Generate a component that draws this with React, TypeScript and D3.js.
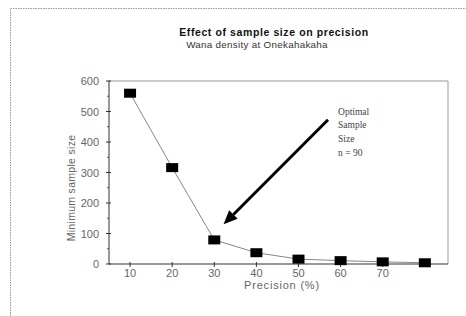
import React from "react";
import * as d3 from "d3";

const precision = [10, 20, 30, 40, 50, 60, 70, 80];
const sampleSize = [560, 316, 79, 37, 16, 11, 7, 4];
const xTicks = [10, 20, 30, 40, 50, 60, 70, 80];
const xTickLabels = ["10", "20", "30", "40", "50", "60", "70", ""];
const yTicks = [0, 100, 200, 300, 400, 500, 600];
const yMinorTicks = [50, 150, 250, 350, 450, 550];
const annotationLines = ["Optimal", "Sample", "Size", "n = 90"];
const arrowFrom = { x: 57, y: 473 };
const arrowTo = { x: 32.2, y: 130 };
const annotationAt = { x: 59.4, y: 490 };

const W = 466;
const H = 316;
const L = 109, R = 448, T = 81, B = 264;

export default function App() {
  const x = d3.scaleLinear().domain([5, 85.5]).range([L, R]);
  const y = d3.scaleLinear().domain([0, 600]).range([B, T]);
  const line = d3
    .line<number>()
    .x((_, i) => x(precision[i]))
    .y((d) => y(d));

  const ax1 = x(arrowFrom.x), ay1 = y(arrowFrom.y);
  const ax2 = x(arrowTo.x), ay2 = y(arrowTo.y);
  const ang = Math.atan2(ay2 - ay1, ax2 - ax1);
  const headLen = 14, headW = 6;
  const bx = ax2 - headLen * Math.cos(ang), by = ay2 - headLen * Math.sin(ang);
  const px = -Math.sin(ang), py = Math.cos(ang);
  const head = `M${ax2},${ay2}L${bx + headW * px},${by + headW * py}L${bx - headW * px},${by - headW * py}Z`;

  const font = "Arial, 'Liberation Sans', sans-serif";
  return (
    <svg
      width={W}
      height={H}
      style={{ position: "absolute", left: 0, top: 0, background: "#fff" }}
      fontFamily={font}
    >
      <rect x={10.5} y={8.5} width={480} height={330} fill="none" stroke="#999" strokeDasharray="1.5,1" />
      <text x={274} y={36} textAnchor="middle" fontSize={10.5} letterSpacing={0.6} fontWeight="bold" fill="#111">
        Effect of sample size on precision
      </text>
      <text x={257} y={48} textAnchor="middle" fontSize={9.8} letterSpacing={0.3} fill="#333">
        Wana density at Onekahakaha
      </text>
      {/* plot frame */}
      <path d={`M${L},${T}H${R}V${B}`} fill="none" stroke="#999" strokeWidth={1} />
      {/* axes */}
      <line x1={L} y1={T} x2={L} y2={B} stroke="#333" />
      <line x1={L} y1={B} x2={R} y2={B} stroke="#333" />
      {yTicks.map((t) => (
        <g key={"y" + t}>
          <line x1={L - 3} x2={L + 2} y1={y(t)} y2={y(t)} stroke="#333" />
          <text x={99} y={y(t) + 4} textAnchor="end" fontSize={11} fill="#666">
            {t}
          </text>
        </g>
      ))}
      {yMinorTicks.map((t) => (
        <line key={"ym" + t} x1={L - 2} x2={L} y1={y(t)} y2={y(t)} stroke="#555" />
      ))}
      {xTicks.map((t, i) => (
        <g key={"x" + t}>
          <line x1={x(t)} x2={x(t)} y1={B - 2} y2={B + 3} stroke="#333" />
          <text x={x(t)} y={277} textAnchor="middle" fontSize={11} fill="#666">
            {xTickLabels[i]}
          </text>
        </g>
      ))}
      <text x={282} y={289} textAnchor="middle" fontSize={11} letterSpacing={0.8} fill="#666">
        Precision (%)
      </text>
      <text
        transform={`translate(75,${188}) rotate(-90)`}
        textAnchor="middle"
        fontSize={10.5}
        letterSpacing={0.3}
        fill="#666"
      >
        Minimum sample size
      </text>
      {/* data */}
      <path d={line(sampleSize) || ""} fill="none" stroke="#666" strokeWidth={0.8} />
      {sampleSize.map((v, i) => (
        <rect key={i} x={x(precision[i]) - 6} y={y(v) - 4.5} width={12} height={9} fill="#000" />
      ))}
      {/* annotation */}
      <line x1={ax1} y1={ay1} x2={bx} y2={by} stroke="#000" strokeWidth={3} />
      <path d={head} fill="#000" />
      {annotationLines.map((s, i) => (
        <text
          key={s}
          x={x(annotationAt.x)}
          y={y(annotationAt.y) + i * 13.8}
          fontSize={9.5}
          fontFamily="'Liberation Serif', 'DejaVu Serif', serif"
          fill="#444"
        >
          {s}
        </text>
      ))}
    </svg>
  );
}
